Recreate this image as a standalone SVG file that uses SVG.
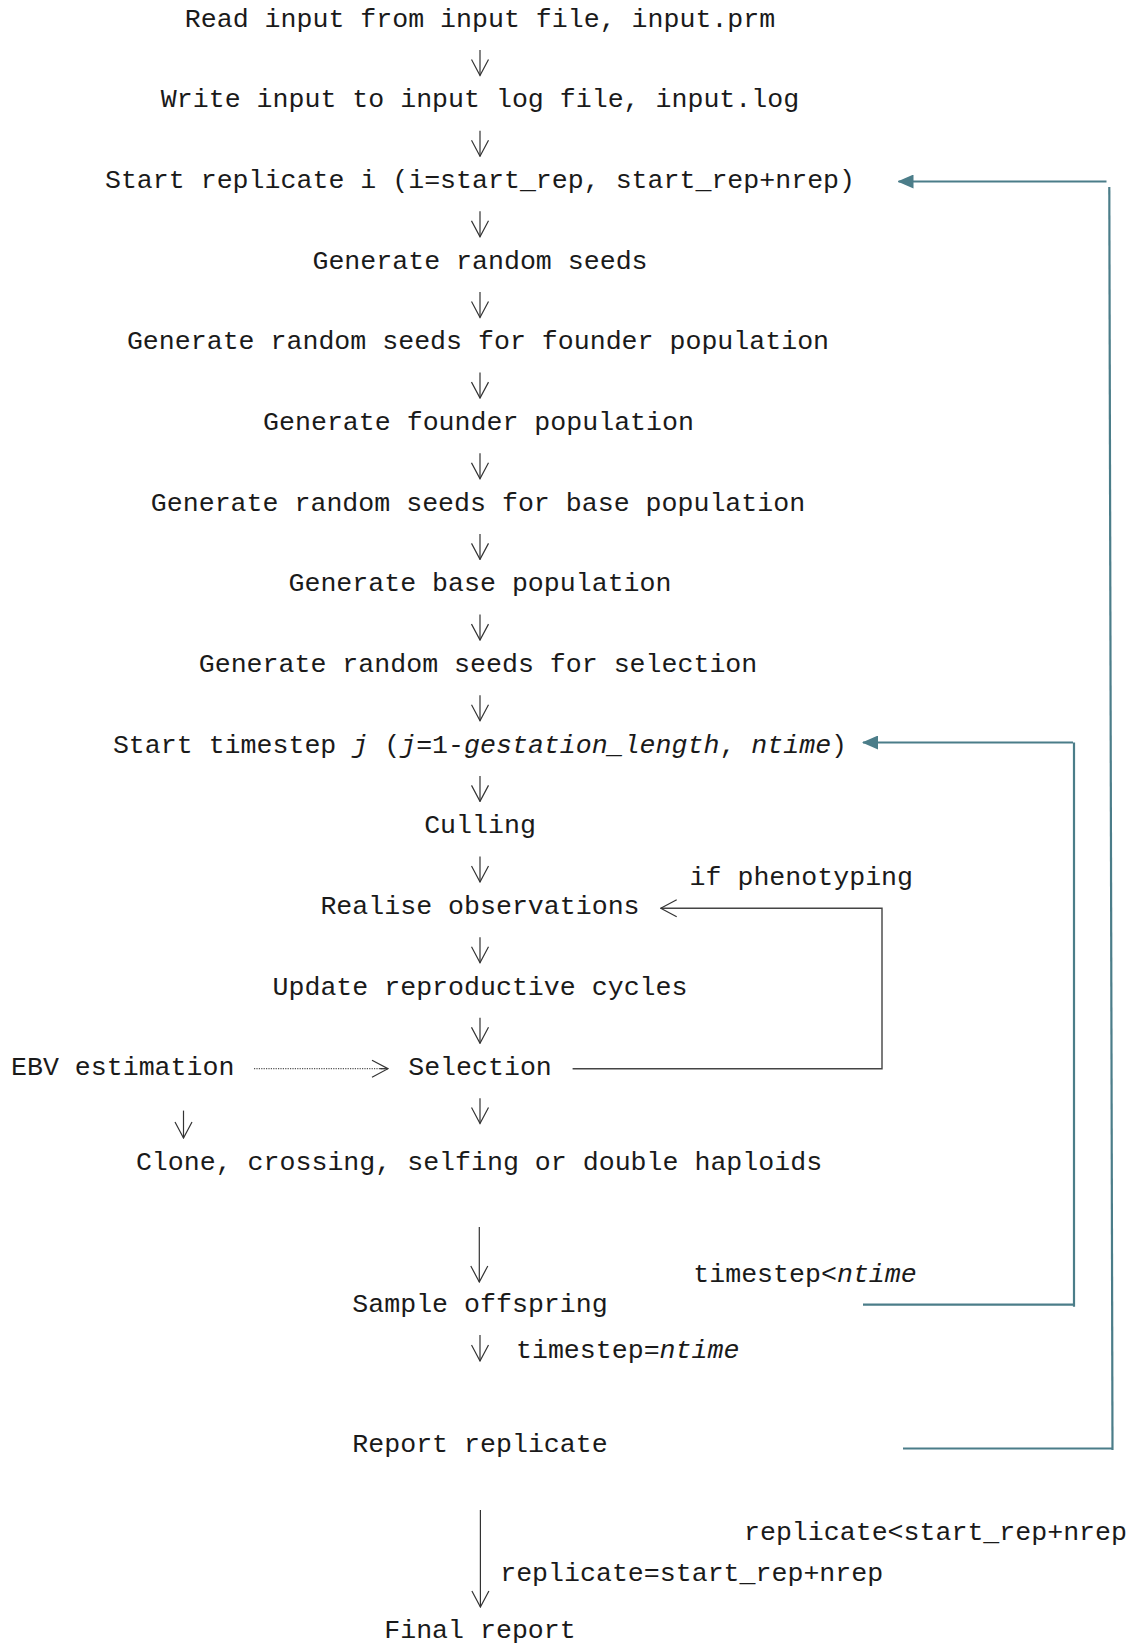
<svg xmlns="http://www.w3.org/2000/svg" width="1138" height="1645" viewBox="0 0 1138 1645">
  <style>
    text { font-family: "Liberation Mono", "Courier New", monospace; font-size: 26.6px; fill: #1a1a1a; }
    .c { text-anchor: middle; }
    .it { font-style: italic; }
    .flow { fill: none; stroke: #333; stroke-width: 1.2; }
    .back { fill: none; stroke: #444; stroke-width: 1.4; }
    .dot { fill: none; stroke: #555; stroke-width: 1.2; stroke-dasharray: 1.2 1.2; }
    .loop { fill: none; stroke: #4b7d89; stroke-width: 2.2; }
  </style>
  <defs>
    <marker id="open" markerUnits="userSpaceOnUse" viewBox="-1 -1 18 19" markerWidth="18" markerHeight="19" refX="16" refY="8.5" orient="auto">
      <path d="M0,0 L16,8.5 L0,17" fill="none" stroke="#333" stroke-width="1.2"/>
    </marker>
    <marker id="tri" markerUnits="userSpaceOnUse" viewBox="0 0 16 14" markerWidth="16" markerHeight="14" refX="15" refY="7" orient="auto">
      <path d="M0,0 L16,7 L0,14 z" fill="#4b7d89"/>
    </marker>
  </defs>

  <!-- process steps -->
  <g id="read-input"><text class="c" x="480" y="26.6">Read input from input file, input.prm</text></g>
  <g id="write-log"><text class="c" x="480" y="107.3">Write input to input log file, input.log</text></g>
  <g id="start-replicate"><text class="c" x="480" y="188">Start replicate i (i=start_rep, start_rep+nrep)</text></g>
  <g id="random-seeds"><text class="c" x="480" y="268.6">Generate random seeds</text></g>
  <g id="seeds-founder"><text class="c" x="478" y="349.3">Generate random seeds for founder population</text></g>
  <g id="founder-pop"><text class="c" x="478.5" y="429.9">Generate founder population</text></g>
  <g id="seeds-base"><text class="c" x="478" y="510.6">Generate random seeds for base population</text></g>
  <g id="base-pop"><text class="c" x="480" y="591.2">Generate base population</text></g>
  <g id="seeds-selection"><text class="c" x="478" y="671.9">Generate random seeds for selection</text></g>
  <g id="start-timestep"><text class="c" x="480" y="752.5">Start timestep <tspan class="it">j</tspan> (<tspan class="it">j</tspan>=1-<tspan class="it">gestation_length</tspan>, <tspan class="it">ntime</tspan>)</text></g>
  <g id="culling"><text class="c" x="480" y="833.2">Culling</text></g>
  <g id="realise-obs"><text class="c" x="480" y="913.8">Realise observations</text></g>
  <g id="update-cycles"><text class="c" x="480" y="994.5">Update reproductive cycles</text></g>
  <g id="selection"><text class="c" x="480" y="1075.1">Selection</text></g>
  <g id="ebv"><text class="c" x="122.7" y="1075.1">EBV estimation</text></g>
  <g id="mating"><text class="c" x="479" y="1169.8">Clone, crossing, selfing or double haploids</text></g>
  <g id="sample-offspring"><text class="c" x="480" y="1312.4">Sample offspring</text></g>
  <g id="report-replicate"><text class="c" x="480" y="1451.9">Report replicate</text></g>
  <g id="final-report"><text class="c" x="480" y="1637.5">Final report</text></g>

  <!-- branch conditions -->
  <g id="labels">
    <text class="c" x="801.3" y="884.5">if phenotyping</text>
    <text class="c" x="805" y="1282">timestep&lt;<tspan class="it">ntime</tspan></text>
    <text class="c" x="627.7" y="1357.5">timestep=<tspan class="it">ntime</tspan></text>
    <text class="c" x="935.5" y="1540">replicate&lt;start_rep+nrep</text>
    <text class="c" x="691.7" y="1580.9">replicate=start_rep+nrep</text>
  </g>

  <g id="connectors">
    <!-- main sequence -->
    <path class="flow" marker-end="url(#open)" d="M480,50 V75.5"/>
    <path class="flow" marker-end="url(#open)" d="M480,130.7 V156.2"/>
    <path class="flow" marker-end="url(#open)" d="M480,211.3 V236.8"/>
    <path class="flow" marker-end="url(#open)" d="M480,292 V317.5"/>
    <path class="flow" marker-end="url(#open)" d="M480,372.6 V398.1"/>
    <path class="flow" marker-end="url(#open)" d="M480,453.3 V478.8"/>
    <path class="flow" marker-end="url(#open)" d="M480,533.9 V559.4"/>
    <path class="flow" marker-end="url(#open)" d="M480,614.6 V640.1"/>
    <path class="flow" marker-end="url(#open)" d="M480,695.2 V720.7"/>
    <path class="flow" marker-end="url(#open)" d="M480,775.9 V801.4"/>
    <path class="flow" marker-end="url(#open)" d="M480,856.5 V882"/>
    <path class="flow" marker-end="url(#open)" d="M480,937.2 V962.7"/>
    <path class="flow" marker-end="url(#open)" d="M480,1017.8 V1043.3"/>
    <path class="flow" marker-end="url(#open)" d="M480,1098.2 V1123.5"/>
    <path class="flow" marker-end="url(#open)" d="M183.5,1110.6 V1138"/>
    <path class="flow" marker-end="url(#open)" d="M479.3,1227 V1282"/>
    <path class="flow" marker-end="url(#open)" d="M480,1335 V1361"/>
    <path class="flow" marker-end="url(#open)" d="M480.4,1510 V1607"/>

    <!-- EBV input to selection -->
    <path class="dot" d="M254,1068.7 H386"/>
    <path class="flow" marker-end="url(#open)" d="M380,1068.7 H388"/>

    <!-- phenotyping feedback -->
    <path class="back" marker-end="url(#open)" d="M572.6,1068.7 H882 V908.3 H660.7"/>

    <!-- timestep loop -->
    <path class="loop" d="M863,1304.7 H1074"/>
    <path class="loop" d="M1074,742.5 V1306.8"/>
    <path class="loop" marker-end="url(#tri)" d="M1073,742.5 H863"/>

    <!-- replicate loop -->
    <path class="loop" d="M903,1448.5 H1112.8"/>
    <path class="loop" d="M1109.3,187 L1112.5,1450"/>
    <path class="loop" marker-end="url(#tri)" d="M1106.5,181.5 H898.5"/>
  </g>
</svg>
